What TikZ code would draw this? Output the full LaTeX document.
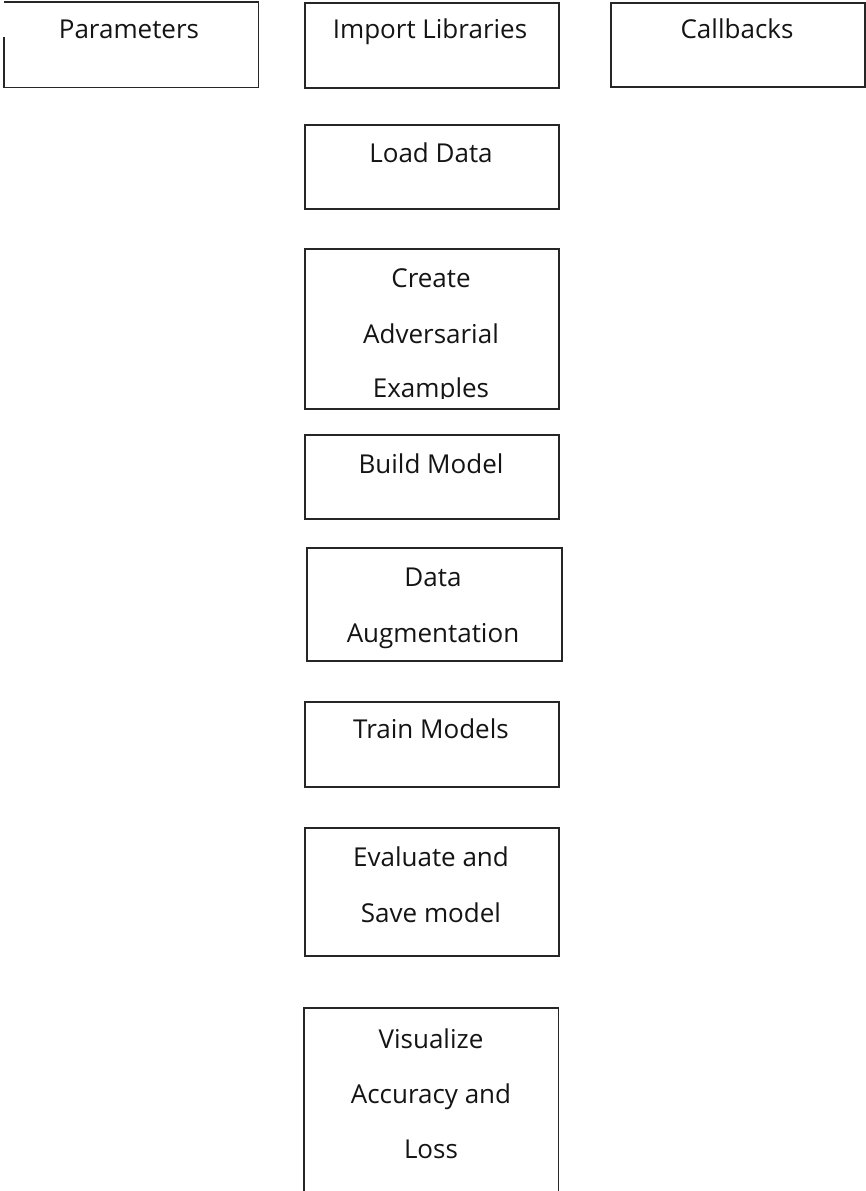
\documentclass[tikz,border=0pt]{standalone}
\usepackage{fontspec}
\setmainfont{Open Sans}
\begin{document}
\begin{tikzpicture}[x=1pt,y=-1pt,
  box/.style={rectangle,draw=black!85,line width=1.8pt,inner sep=0pt,anchor=north west},
  ghost/.style={rectangle,draw=none,inner sep=0pt,anchor=north west},
  edge/.style={draw=black!85,line width=1.8pt},
  lbl/.style={inner sep=0pt,anchor=base,text=black!92,font=\fontsize{26}{30}\selectfont}]
\useasboundingbox (0,0) rectangle (865,1191);
% boxes
\node[ghost,minimum width=254pt,minimum height=85pt] (par) at (4,2) {};
\draw[edge] (par.west |- 0,37) -- (par.south west) -- (par.south east) -- (par.north east) -- (par.north west);
\node[box,minimum width=254pt,minimum height=85pt] (imp) at (304,2) {};
\node[box,minimum width=254pt,minimum height=84pt] (cb) at (610,2) {};
\node[box,minimum width=254pt,minimum height=84pt] (load) at (304,124) {};
\node[box,minimum width=254pt,minimum height=160pt] (adv) at (304,248) {};
\node[box,minimum width=254pt,minimum height=84pt] (build) at (304,434) {};
\node[box,minimum width=255pt,minimum height=113pt] (aug) at (306,547) {};
\node[box,minimum width=254pt,minimum height=85pt] (train) at (304,701) {};
\node[box,minimum width=254pt,minimum height=128pt] (eval) at (304,827) {};
\node[ghost,minimum width=254pt,minimum height=190pt] (vis) at (304,1008) {};
\draw[edge] (vis.south west) -- (vis.north west) -- (vis.north east) -- (vis.south east);
% labels
\node[lbl] (tpar) at (129,38) {Parameters};
\node[lbl] (timp) at (430,38) {Import Libraries};
\node[lbl] (tcb) at (737,38) {Callbacks};
\node[lbl] (tload) at (431,162) {Load Data};
\node[lbl] (tadv1) at (431,287) {Create};
\node[lbl] (tadv2) at (431,343) {Adversarial};
\begin{scope}
\clip (300,350) rectangle (560,398);
\node[lbl] (tadv3) at (431,397) {Examples};
\end{scope}
\node[lbl] (tbuild) at (431,473) {Build Model};
\node[lbl] (taug1) at (433,586) {Data};
\node[lbl] (taug2) at (433,642) {Augmentation};
\node[lbl] (ttrain) at (431,738) {Train Models};
\node[lbl] (teval1) at (431,866) {Evaluate and};
\node[lbl] (teval2) at (431,922) {Save model};
\node[lbl] (tvis1) at (431,1048) {Visualize};
\node[lbl] (tvis2) at (431,1103) {Accuracy and};
\node[lbl] (tvis3) at (431,1158) {Loss};
\end{tikzpicture}
\end{document}
